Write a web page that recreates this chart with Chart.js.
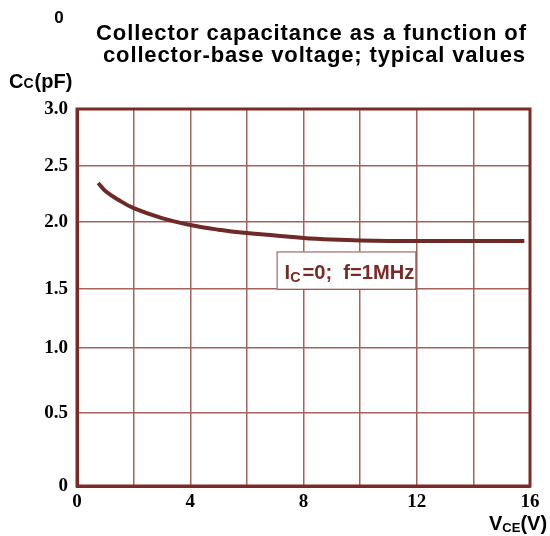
<!DOCTYPE html>
<html>
<head>
<meta charset="utf-8">
<script src="https://cdn.jsdelivr.net/npm/chart.js@4/dist/chart.umd.min.js"></script>
<style>
html,body{margin:0;padding:0;background:#fff;}
#wrap{width:550px;height:536px;position:relative;}
</style>
</head>
<body>
<div id="wrap"><canvas id="cc"></canvas></div>
<script>
// collector-base voltage (V) and capacitance (pF)
var vce = [0.75, 1.0, 1.5, 2, 3, 4, 5, 6, 7, 8, 9, 10, 12, 14, 15.8];
var capPF = [2.348, 2.277, 2.192, 2.125, 2.036, 1.978, 1.943, 1.918, 1.900, 1.881, 1.869, 1.862, 1.858, 1.858, 1.858];

var xTicks = [0, 4, 8, 12, 16];
var yTicks = [0, 0.5, 1.0, 1.5, 2.0, 2.5, 3.0];
// the scanned axis is not quite even: where each y tick sits, as a fraction of the height
var yTickFrac = [0, 0.194, 0.366, 0.523, 0.700, 0.849, 1];

var titleLines = ['Collector capacitance as a function of', 'collector-base voltage; typical values'];
var noteBox = {x0: 7.05, x1: 11.95, y0: 1.5, y1: 1.78};

var DARK = '#7b2b26';
var GRID = '#a3625c';
var SANS = '"Liberation Sans", Arial, sans-serif';
var SERIF = '"Liberation Serif", "Times New Roman", serif';

// linear scale, but y ticks placed where the original drawing has them
class WarpScale extends Chart.LinearScale {
  getPixelForValue(v) {
    if (v === null || v === undefined) return NaN;
    var i = 0;
    while (i < yTicks.length - 2 && v > yTicks[i + 1]) i++;
    var t = (v - yTicks[i]) / (yTicks[i + 1] - yTicks[i]);
    var d = yTickFrac[i] + t * (yTickFrac[i + 1] - yTickFrac[i]);
    return this.getPixelForDecimal(d);
  }
}
WarpScale.id = 'warp';
WarpScale.defaults = {};
Chart.register(WarpScale);

var pts = vce.map(function (x, i) { return {x: x, y: capPF[i]}; });

// text spread out to a given width (the original lettering is wide)
function spread(ctx, s, x, y, width) {
  ctx.letterSpacing = '0px';
  var w = ctx.measureText(s).width;
  ctx.letterSpacing = ((width - w) / (s.length - 1)) + 'px';
  ctx.fillText(s, x, y);
  ctx.letterSpacing = '0px';
}

var extras = {
  id: 'extras',
  afterDraw: function (chart) {
    var ctx = chart.ctx, a = chart.chartArea;
    var sx = chart.scales.x, sy = chart.scales.y;
    ctx.save();
    // frame
    ctx.strokeStyle = DARK;
    ctx.lineWidth = 3;
    ctx.strokeRect(a.left, a.top, a.right - a.left, a.bottom - a.top);

    ctx.fillStyle = '#000';
    ctx.textBaseline = 'alphabetic';
    ctx.font = 'bold 17px ' + SANS;
    ctx.textAlign = 'center';
    ctx.fillText('0', 59, 23);

    ctx.textAlign = 'left';
    ctx.font = 'bold 22px ' + SANS;
    spread(ctx, titleLines[0], 96, 40, 430);
    spread(ctx, titleLines[1], 103, 62, 422);

    // y axis title C_C(pF)
    ctx.font = 'bold 20px ' + SANS;
    ctx.fillText('C', 9, 88);
    var w = ctx.measureText('C').width;
    ctx.font = 'bold 14px ' + SANS;
    ctx.fillText('C', 9 + w, 88);
    w += ctx.measureText('C').width;
    ctx.font = 'bold 20px ' + SANS;
    ctx.fillText('(pF)', 9 + w + 1, 88);

    // x axis title V_CE(V)
    ctx.fillText('V', 489, 530);
    w = ctx.measureText('V').width;
    ctx.font = 'bold 13px ' + SANS;
    ctx.fillText('CE', 489 + w, 532);
    w += ctx.measureText('CE').width;
    ctx.font = 'bold 20px ' + SANS;
    ctx.fillText('(V)', 489 + w, 530);

    // condition note
    var bx0 = sx.getPixelForValue(noteBox.x0), bx1 = sx.getPixelForValue(noteBox.x1);
    var by0 = sy.getPixelForValue(noteBox.y1), by1 = sy.getPixelForValue(noteBox.y0);
    ctx.fillStyle = '#fff';
    ctx.fillRect(bx0, by0, bx1 - bx0, by1 - by0);
    ctx.strokeStyle = '#8f4e49';
    ctx.lineWidth = 1;
    ctx.strokeRect(bx0 + 0.5, by0 + 0.5, bx1 - bx0, by1 - by0);
    ctx.fillStyle = DARK;
    var tx = bx0 + 8, ty = by1 - 10;
    // squeeze horizontally, the original lettering is condensed
    ctx.font = 'bold 21px ' + SANS;
    var w1 = ctx.measureText('I').width, w3 = ctx.measureText('=0;  f=1MHz').width;
    ctx.font = 'bold 15px ' + SANS;
    var w2 = ctx.measureText('C').width + 2;
    var k = (bx1 - tx - 1) / (w1 + w2 + w3);
    ctx.translate(tx, ty);
    ctx.scale(k, 1);
    ctx.font = 'bold 21px ' + SANS;
    ctx.fillText('I', 0, 0);
    ctx.font = 'bold 15px ' + SANS;
    ctx.fillText('C', w1, 3);
    ctx.font = 'bold 21px ' + SANS;
    ctx.fillText('=0;  f=1MHz', w1 + w2, 0);
    ctx.restore();
  }
};

new Chart(document.getElementById('cc'), {
  type: 'line',
  data: {
    datasets: [{
      data: pts,
      borderColor: '#6e2a27',
      borderWidth: 4,
      pointRadius: 0,
      tension: 0.4,
      fill: false
    }]
  },
  options: {
    responsive: true,
    maintainAspectRatio: false,
    animation: false,
    layout: {padding: {left: 0, top: 109, right: 20, bottom: 0}},
    plugins: {legend: {display: false}, tooltip: {enabled: false}, title: {display: false}},
    scales: {
      x: {
        type: 'linear', min: 0, max: 16,
        afterFit: function (s) { s.height = 50; },
        afterBuildTicks: function (s) {
          s.ticks = [0, 2, 4, 6, 8, 10, 12, 14, 16].map(function (v) { return {value: v}; });
        },
        ticks: {
          autoSkip: false, maxRotation: 0, padding: 5, color: '#000',
          font: {family: SERIF, weight: 'bold', size: 19},
          callback: function (v) { return xTicks.indexOf(v) >= 0 ? String(v) : ''; }
        },
        grid: {color: GRID, lineWidth: 1.5, drawTicks: false},
        border: {color: DARK, width: 3}
      },
      y: {
        type: 'warp', min: 0, max: 3,
        afterFit: function (s) { s.width = 77; },
        afterBuildTicks: function (s) {
          s.ticks = yTicks.map(function (v) { return {value: v}; });
        },
        ticks: {
          autoSkip: false, padding: 9, color: '#000',
          font: {family: SERIF, weight: 'bold', size: 19},
          callback: function (v) { return v === 0 ? '0' : v.toFixed(1); }
        },
        grid: {color: GRID, lineWidth: 1.5, drawTicks: false},
        border: {color: DARK, width: 3}
      }
    }
  },
  plugins: [extras]
});
</script>
</body>
</html>
